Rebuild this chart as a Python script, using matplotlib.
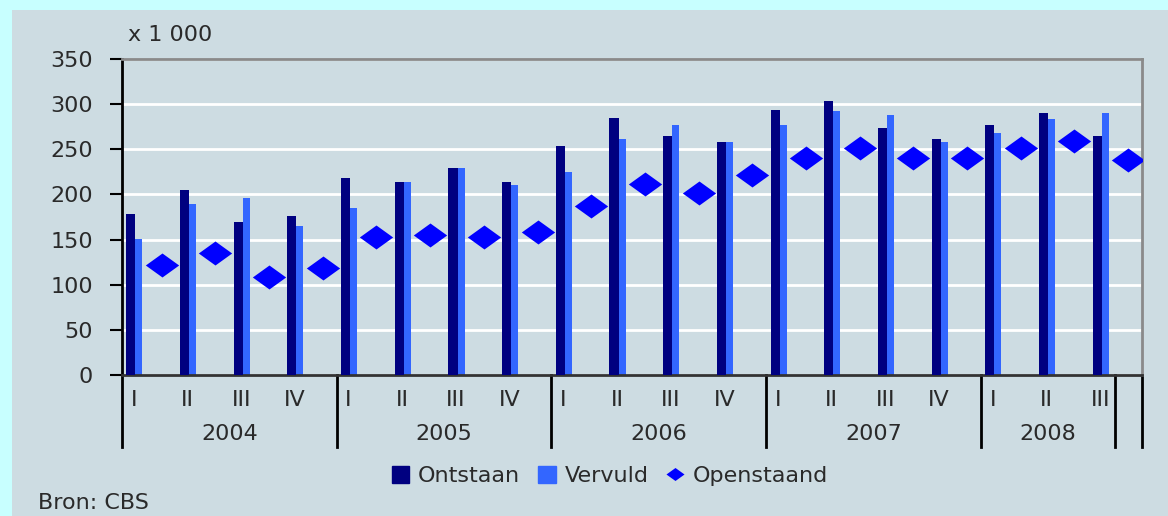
import matplotlib.pyplot as plt
from matplotlib.patches import Rectangle
from matplotlib.lines import Line2D
from matplotlib.path import Path

# Data (x 1 000)
quarters = ["I", "II", "III", "IV"] * 4 + ["I", "II", "III"]
years = ["2004", "2005", "2006", "2007", "2008"]
year_bounds = [0, 4, 8, 12, 16, 18.5]
ontstaan = [178, 205, 169, 176, 218, 214, 229, 214, 254, 285, 265, 258, 294, 303, 274, 261, 277, 290, 265]
vervuld = [151, 189, 196, 165, 185, 214, 229, 210, 225, 261, 277, 258, 277, 292, 288, 258, 268, 283, 290]
openstaand = [122, 135, 108, 119, 153, 155, 153, 158, 187, 211, 202, 222, 240, 251, 240, 240, 251, 259, 238]

W, H = 1168, 516
fig = plt.figure(figsize=(W / 100, H / 100), dpi=100)
fig.patch.set_facecolor("#c8ffff")
panel = "#cddce2"
# grey-blue panel inside the cyan border
bg = fig.add_axes([12 / W, 0, 1 - 12 / W, 1 - 10 / H], zorder=-1)
bg.set_facecolor(panel)
bg.set_xticks([])
bg.set_yticks([])
for s in bg.spines.values():
    s.set_visible(False)

ax = fig.add_axes([122 / W, 1 - 375 / H, (1142 - 122) / W, (375 - 59) / H])
ax.set_facecolor(panel)

txt = "#2a2a2a"
fs = 16

# bars and diamonds
x = list(range(len(ontstaan)))
ax.bar([i + 0.08 for i in x], ontstaan, width=0.17, align="edge", color="#000080", zorder=3)
ax.bar([i + 0.25 for i in x], vervuld, width=0.13, align="edge", color="#3366ff", zorder=2)
diamond = Path([(-1, 0), (0, 0.72), (1, 0), (0, -0.72), (-1, 0)],
               [Path.MOVETO, Path.LINETO, Path.LINETO, Path.LINETO, Path.CLOSEPOLY])
ax.plot([i + 0.74 for i in x], openstaand, linestyle="none", marker=diamond, markersize=24,
        color="#0000ff", markeredgewidth=0, zorder=4)

# axes
ax.set_xlim(0, 19)
ax.set_ylim(0, 350)
ax.set_yticks(range(0, 351, 50))
ax.yaxis.grid(True, color="white", linewidth=2)
ax.set_axisbelow(True)
ax.tick_params(axis="y", direction="out", length=9, width=1.5, pad=12, labelsize=fs, labelcolor=txt)
ax.set_xticks([i + 0.22 for i in x])
ax.set_xticklabels(quarters, fontsize=fs, color=txt)
ax.tick_params(axis="x", length=0, pad=11)
for s in ["top", "right"]:
    ax.spines[s].set_color("#8a8a8a")
    ax.spines[s].set_linewidth(2)
ax.spines["left"].set_color("black")
ax.spines["left"].set_linewidth(2)
ax.spines["bottom"].set_color("#333333")
ax.spines["bottom"].set_linewidth(2)

# year separators and labels
xt = ax.get_xaxis_transform()
for b in year_bounds + [19]:
    ax.plot([b, b], [0, -0.228], transform=xt, color="black", linewidth=2, clip_on=False)
for k, yr in enumerate(years):
    ax.text((year_bounds[k] + year_bounds[k + 1]) / 2, -0.187, yr, transform=xt,
            ha="center", va="center", fontsize=fs, color=txt)

fig.text(128 / W, 1 - 35 / H, "x 1 000", fontsize=fs, color=txt, va="center")
fig.text(38 / W, 1 - 503 / H, "Bron: CBS", fontsize=fs, color=txt, va="center")

# legend
handles = [Rectangle((0, 0), 1, 1, color="#000080"),
           Rectangle((0, 0), 1, 1, color="#3366ff"),
           Line2D([], [], linestyle="none", marker=diamond, markersize=13, color="#0000ff", markeredgewidth=0)]
fig.legend(handles, ["Ontstaan", "Vervuld", "Openstaand"], loc="center", bbox_to_anchor=(610 / W, 1 - 476 / H),
           ncol=3, frameon=False, fontsize=fs, handlelength=0.8, handleheight=0.8, handletextpad=0.4,
           columnspacing=0.8, labelcolor=txt)

plt.savefig("out.png", dpi=100, facecolor=fig.get_facecolor())
